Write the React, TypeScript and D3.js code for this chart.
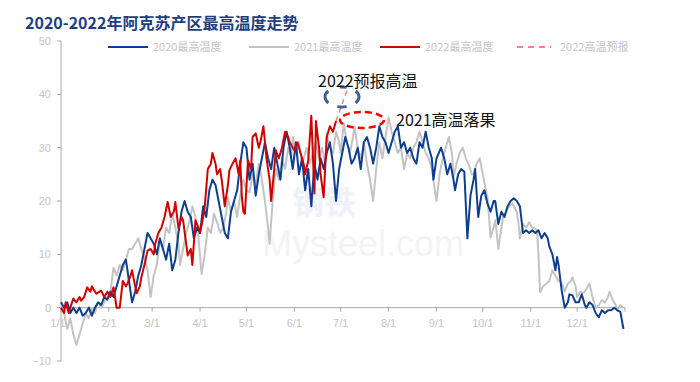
import React from "react";
import * as d3 from "d3";

const W = 700;
const H = 382;

const titleText = "2020-2022年阿克苏产区最高温度走势";
const legendLabels = ["2020最高温度", "2021最高温度", "2022最高温度", "2022高温预报"];

const tickDays = [0, 31, 59, 90, 120, 151, 181, 212, 243, 273, 304, 334];
const tickLabels = ["1/1", "2/1", "3/1", "4/1", "5/1", "6/1", "7/1", "8/1", "9/1", "10/1", "11/1", "12/1"];
const yTicks = [-10, 0, 10, 20, 30, 40, 50];

// 2020 (blue) day-of-year and max temperature
const days2020 = [0,2,4,6,8,10,12,14,16,18,20,22,24,26,28,30,32,34,36,38,40,42,44,46,48,50,52,54,56,58,60,62,64,66,68,70,72,74,76,78,80,82,84,86,88,90,92,94,96,98,100,102,104,106,108,110,112,114,116,118,120,122,124,126,128,130,132,134,136,138,140,142,144,146,148,150,152,154,156,158,160,162,164,166,168,170,172,174,176,178,180,182,184,186,188,190,192,194,196,198,200,202,204,206,208,210,212,214,216,218,220,222,224,226,228,230,232,234,236,238,240,241,243,246,248,250,252,254,255,257,259,261,263,265,267,268,270,272,274,276,278,280,281,283,285,287,289,291,293,295,297,299,301,303,305,307,309,311,313,315,316,318,320,321,322,324,326,328,329,331,333,335,337,339,340,342,344,346,348,350,352,354,356,358,360,362,364];
const max2020 = [1,0,1,-1,0,-1,0,-1.5,-1,0,-1.5,0,1,0.5,2,1.5,3,2,4,6,8,9,5,1,3,6,8,11,14,13,12,10,13,11,9,12,7,9,14,18,20,18,17,13,15,14,19,17,22,24,23,20,17,14,13,18,20,22,27,31,30,24,27,21,25,28,31,28,26,30,27,24,30,33,30,26,31,25,28,22,26,19,27,24,28,26,29,31,27,20,26,29,32,30,27,28,30,26,31,32,30,27,30,34,32,31,29,31,33,34,30,31,29,30,28,27,31,30,33,30,28,24,28,30,28,25,27,24,22,25,26,25.5,13,21,24,26,17,21,22,19.5,18,20,20,15.7,18,17,19,20,20.5,20,19,14,14.5,14,14.5,14,14.5,13,14,13,11.5,10,7,9.5,8,3.3,0,1,2.5,2.3,1,1,2.5,0.5,0,1,0.5,-1,-1.8,-0.5,-1,-0.5,-0.5,0,-0.5,-0.8,-4];

// 2021 (grey)
const days2021 = [0,2,4,6,8,10,12,14,16,18,20,22,24,26,28,30,32,34,36,38,40,42,44,46,48,50,52,54,56,58,60,62,64,66,68,70,72,74,76,77,79,81,83,85,87,89,91,93,95,97,99,101,103,105,107,108,110,112,114,116,118,120,122,124,126,128,130,132,134,135,137,139,141,143,145,147,149,150,152,154,156,157,159,161,163,165,167,169,171,172,174,176,178,180,181,183,185,187,189,190,192,194,196,198,200,202,204,206,208,210,212,214,216,218,220,222,224,226,228,230,232,234,236,238,240,242,243,245,247,249,251,253,254,256,258,260,262,264,266,267,269,271,273,275,276,277,278,280,281,282,283,285,286,288,290,292,294,295,296,297,299,301,303,305,306,308,309,310,312,314,316,318,320,322,323,325,326,328,330,331,333,334,336,338,340,342,344,346,348,350,352,354,355,357,359,360,362,364];
const max2021 = [0,-1,-4,-2,-5,-7,-5,-3,-1,-2,0,-1,1,0,1,2,3,7.5,6,8,7,9,11,11,12,13,11,9.5,7,2,6,8,12.6,11,15,14,17.6,15,12,8,11,14,16,19,17,13,6.3,10,15,14,17.6,16,14,15,18,20.7,18,20,17,21,24,22,21.6,25,23,27,24,20,15,12,20,26,24,28,26,30,28,32,29,31,27,28,30,27,29,31,28,30,27,32.7,30,29,33,31,29,34.5,31,29,32,34,30,28,31,27,24,20,26,31,28,32,35.7,33,31,29,30,26,29,28,30,31,33,31,29,28,26,22,20,25,28,30,32,29,24.5,27,29,30,28,26.7,25,25,27,28,25,22,20.7,17,13.2,15,16.4,14,11,15,17,18,19,19.5,18.5,18,16,13,15.7,15,16,15,15,14.5,10,2.9,4,4.5,5,7,6,5,5,4,3,4.5,5,5.7,4,2,3,2.7,3.5,4.5,2,0,0.5,1.4,1,2,3,1.5,0.5,-0.5,0.5,0];

// 2022 (red)
const days2022 = [0,2,3,5,6,8,10,12,13,15,17,19,20,22,23,25,26,28,30,32,34,36,38,40,42,43,45,46,48,49,51,52,54,56,58,60,61,63,65,67,69,71,73,74,76,78,79,81,82,84,85,87,89,90,92,93,95,97,98,100,101,103,104,106,108,109,111,113,115,116,117,118,119,121,123,124,126,128,129,131,133,135,136,138,139,141,143,145,147,148,150,151,153,155,157,158,160,162,164,165,167,168,170,172,174,176,178];
const max2022 = [0,-1,1,-1,0,1.7,1,2,1.3,2,3.8,3,4,3,2.6,3,3.2,2,3,2,3.8,0,0,5,4,4.5,6,7,4,2.7,4,5.7,8,10.7,11,10,12,14,15,17,19.8,17,18,19.8,14.9,17,16.4,12,9.8,11,8,16.4,15,14,17,18.8,26,27,29,27,25,26,24,19,23,25.8,27,28,25,27.6,21,18,17.6,27.6,26,32,32.7,30,31,34,28,24,20,26,29.5,28,30,33,32,31,30,29.5,31,29,27,25,27.6,36,21.4,35,30,25,20.7,32,34,33,35];

// 2022 forecast (pink dashed)
const forecastDays = [178, 186];
const forecastValues = [35, 41.5];

const plot = { left: 61, right: 625, top: 41, bottom: 361 };

export default function App() {
  const x = d3.scaleLinear().domain([0, 365]).range([plot.left, plot.right]);
  const y = d3.scaleLinear().domain([-10, 50]).range([plot.bottom, plot.top]);
  const line = d3
    .line<[number, number]>()
    .x((d) => x(d[0]))
    .y((d) => y(d[1]));

  const zip = (a: number[], b: number[]) => a.map((d, i) => [d, b[i]] as [number, number]);

  const series = [
    { data: zip(days2021, max2021), color: "#c3c3c3" },
    { data: zip(days2020, max2020), color: "#0e3f8e" },
    { data: zip(days2022, max2022), color: "#d10000" },
  ];

  const axisColor = "#a6a6a6";
  const labelColor = "#c4c4c4";
  const legendFont = "'Noto Sans CJK SC', sans-serif";

  const legendItems = [
    { x1: 108, color: "#0e3f8e", dash: undefined as string | undefined, label: legendLabels[0] },
    { x1: 249, color: "#c3c3c3", dash: undefined, label: legendLabels[1] },
    { x1: 380, color: "#d10000", dash: undefined, label: legendLabels[2] },
    { x1: 517, color: "#f4808c", dash: "6,5", label: legendLabels[3] },
  ];

  return (
    <svg
      width={W}
      height={H}
      style={{ position: "absolute", left: 0, top: 0, background: "#fff" }}
    >
      <rect x={0} y={0} width={W} height={H} fill="#fff" />
      {/* watermark */}
      <text x={292} y={214} fontFamily={legendFont} fontSize={32} fontWeight={700} fill="#eef1f7">
        钢铁
      </text>
      <text x={262} y={256} fontFamily="'Liberation Sans', sans-serif" fontSize={36} fill="#f3f3f3">
        Mysteel.com
      </text>

      {/* title */}
      <text
        x={25}
        y={29}
        fontFamily={legendFont}
        fontSize={16}
        fontWeight={700}
        fill="#1d3e80"
      >
        {titleText}
      </text>

      {/* legend */}
      {legendItems.map((it, i) => (
        <g key={i}>
          <line
            x1={it.x1}
            x2={it.x1 + (it.dash ? 34 : 40)}
            y1={47}
            y2={47}
            stroke={it.color}
            strokeWidth={2.2}
            strokeDasharray={it.dash}
          />
          <text
            x={it.x1 + (it.dash ? 43 : 45)}
            y={51}
            fontFamily={legendFont}
            fontSize={11}
            fill={labelColor}
          >
            {it.label}
          </text>
        </g>
      ))}

      {/* y axis */}
      <line x1={plot.left} x2={plot.left} y1={plot.top} y2={plot.bottom} stroke={axisColor} strokeWidth={1} />
      {yTicks.map((t) => (
        <g key={t}>
          <line x1={plot.left - 4} x2={plot.left} y1={y(t)} y2={y(t)} stroke={axisColor} />
          <text
            x={plot.left - 10}
            y={y(t) + 4}
            textAnchor="end"
            fontFamily="'Liberation Sans', sans-serif"
            fontSize={11}
            fill={labelColor}
          >
            {t < 0 ? "\u2212" + Math.abs(t) : t}
          </text>
        </g>
      ))}

      {/* x axis at zero */}
      <line x1={plot.left} x2={plot.right} y1={y(0)} y2={y(0)} stroke={axisColor} strokeWidth={1} />
      {tickDays.map((d, i) => (
        <g key={d}>
          <line x1={x(d)} x2={x(d)} y1={y(0)} y2={y(0) + 4} stroke={axisColor} />
          <text
            x={x(d) - (i === 0 ? 3 : 0)}
            y={y(0) + 19}
            textAnchor="middle"
            fontFamily="'Liberation Sans', sans-serif"
            fontSize={11}
            fill={labelColor}
          >
            {tickLabels[i]}
          </text>
        </g>
      ))}
      <line x1={plot.right} x2={plot.right} y1={y(0)} y2={y(0) + 4} stroke={axisColor} />

      {/* series */}
      {series.map((s, i) => (
        <path
          key={i}
          d={line(s.data) || ""}
          fill="none"
          stroke={s.color}
          strokeWidth={2}
          strokeLinejoin="round"
        />
      ))}
      <path
        d={line(zip(forecastDays, forecastValues)) || ""}
        fill="none"
        stroke="#f4808c"
        strokeWidth={1.5}
        strokeDasharray="5,4"
      />

      {/* annotations */}
      <ellipse
        cx={342}
        cy={97}
        rx={17}
        ry={10}
        fill="none"
        stroke="#3d6396"
        strokeWidth={3}
        pathLength={360}
        strokeDasharray="30,40,40,40,60,50,30,40,30"
      />
      <ellipse
        cx={362}
        cy={120}
        rx={22}
        ry={8}
        fill="none"
        stroke="#ff0000"
        strokeWidth={2.5}
        strokeDasharray="7,4"
      />
      <text x={318} y={87} fontFamily={legendFont} fontSize={16} fill="#111">
        2022预报高温
      </text>
      <text x={396} y={126} fontFamily={legendFont} fontSize={16} fill="#111">
        2021高温落果
      </text>
    </svg>
  );
}
